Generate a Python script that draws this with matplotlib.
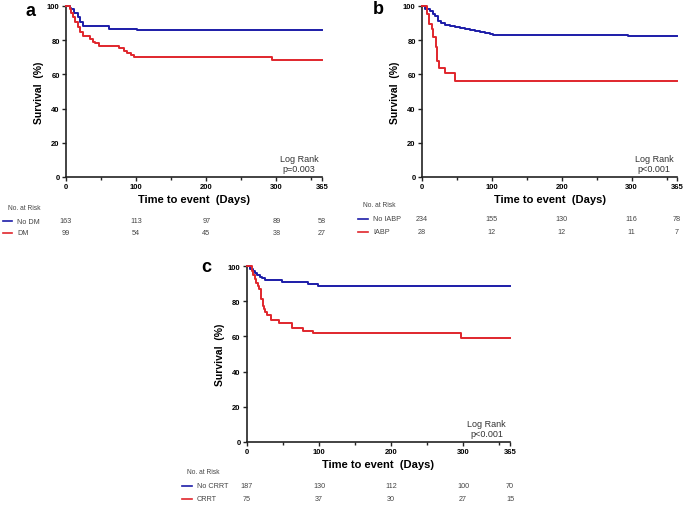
import matplotlib
matplotlib.use("Agg")
import matplotlib.pyplot as plt
from matplotlib.lines import Line2D

plt.rcParams['font.family'] = ['Liberation Sans', 'DejaVu Sans']

W, H = 685, 506
BLUE = '#1c1ca8'
RED = '#e0262c'

# Kaplan-Meier step data (days, survival %)
a_nodm_t = [0, 5, 7, 12, 17, 20, 24, 61, 101, 365]
a_nodm_s = [100, 99, 98, 96, 93.4, 90.4, 88.3, 86.7, 86, 86]
a_dm_t = [0, 5, 7, 9.5, 13, 17, 20, 24, 34, 38, 42, 47.5, 76, 82, 87, 92, 97.5, 294, 365]
a_dm_s = [100, 98, 96, 93.4, 90.4, 87.7, 84.8, 82.3, 80.7, 79.1, 78.2, 76.6, 75.3, 73.8, 72.4, 71.5, 70.3, 68.4, 68.4]

b_noiabp_t = [0, 4, 11, 16, 19, 23, 27, 33, 40, 47, 54, 61, 69, 76, 83, 90, 97, 102, 295, 365]
b_noiabp_s = [100, 98.5, 97, 95.5, 94, 91.5, 90, 89, 88.3, 87.7, 87.1, 86.5, 86, 85.5, 85, 84.3, 83.6, 83.2, 82.3, 82.3]
b_iabp_t = [0, 7, 10, 14, 16, 19.6, 21, 25, 33, 47, 365]
b_iabp_s = [100, 95.5, 89.5, 86.5, 82, 76, 68, 64, 60.6, 56.3, 56.3]

c_nocrrt_t = [0, 4, 8, 11, 14, 18, 21, 25, 49, 85, 99, 365]
c_nocrrt_s = [100, 98.5, 97, 96, 95, 94, 93, 92.2, 91.1, 90, 88.5, 88.5]
c_crrt_t = [0, 7, 9, 11, 13, 15, 17, 19, 20, 22, 24, 25, 28, 34, 44, 62, 78, 92, 297, 365]
c_crrt_s = [100, 97, 95, 92.6, 90.5, 88.5, 87, 84, 81, 77.5, 75.5, 73.7, 72.2, 69.3, 67.8, 64.6, 63, 61.7, 59, 59]

risk_days = [0, 100, 200, 300, 365]
a_labels = ['No DM', 'DM']
a_risk = [[163, 113, 97, 89, 58], [99, 54, 45, 38, 27]]
b_labels = ['No IABP', 'IABP']
b_risk = [[234, 155, 130, 116, 78], [28, 12, 12, 11, 7]]
c_labels = ['No CRRT', 'CRRT']
c_risk = [[187, 130, 112, 100, 70], [75, 37, 30, 27, 15]]

pvals = ['p=0.003', 'p<0.001', 'p<0.001']

fig = plt.figure(figsize=(W / 100, H / 100), dpi=100)


def px_axes(left, top, right, bottom):
    return fig.add_axes([left / W, (H - bottom) / H, (right - left) / W, (bottom - top) / H])


def km_panel(ax, curves, pval):
    for t, s, col in curves:
        ax.step(t, s, where='post', color=col, lw=1.4, clip_on=False, zorder=3)
    ax.set_xlim(0, 365)
    ax.set_ylim(0, 100)
    for sp in ['top', 'right']:
        ax.spines[sp].set_visible(False)
    for sp in ['left', 'bottom']:
        ax.spines[sp].set_linewidth(1.2)
        ax.spines[sp].set_color('#222222')
    ax.set_xticks([0, 100, 200, 300, 365])
    ax.set_xticks([50, 150, 250, 350], minor=True)
    ax.set_yticks([0, 20, 40, 60, 80, 100])
    ax.tick_params(axis='both', which='major', labelsize=5.5, width=1, length=3, pad=1.5, color='#222222')
    ax.tick_params(axis='x', which='minor', width=1, length=2, color='#222222')
    for lab in ax.get_xticklabels() + ax.get_yticklabels():
        lab.set_fontweight('bold')
    ax.set_xlabel('Time to event  (Days)', fontsize=8, fontweight='bold', labelpad=2.5)
    ax.set_ylabel('Survival  (%)', fontsize=7.5, fontweight='bold', labelpad=2)
    ax.text(0.985, 0.025, 'Log Rank\n' + pval, transform=ax.transAxes, ha='right', va='bottom',
            fontsize=6.5, multialignment='center', color='#333333', linespacing=1.1,
            family='Liberation Sans')


def risk_table(ax, labels, risk, y_head, y_rows, x_line, x_lab):
    fig.text((x_line[0] + 5) / W, 1 - y_head / H, 'No. at Risk',
             fontsize=4.8, color='#444444', va='center', ha='left')
    for lab, row, y, col in zip(labels, risk, y_rows, [BLUE, RED]):
        fig.add_artist(Line2D([x_line[0] / W, x_line[1] / W], [1 - y / H, 1 - y / H], color=col, lw=1.2))
        fig.text(x_lab / W, 1 - y / H, lab, fontsize=5.2, color='#444444', va='center', ha='left')
        for d, n in zip(risk_days, row):
            ax.annotate(str(n), xy=(d, H - y), xycoords=('data', 'figure pixels'), ha='center', va='center',
                        fontsize=5.2, color='#444444', annotation_clip=False)


ax_a = px_axes(66, 7, 322, 178)
km_panel(ax_a, [(a_nodm_t, a_nodm_s, BLUE), (a_dm_t, a_dm_s, RED)], pvals[0])
risk_table(ax_a, a_labels, a_risk, 208, [222, 234], (3, 12), 17)

ax_b = px_axes(422, 7, 677, 178)
km_panel(ax_b, [(b_noiabp_t, b_noiabp_s, BLUE), (b_iabp_t, b_iabp_s, RED)], pvals[1])
risk_table(ax_b, b_labels, b_risk, 206, [220, 233], (358, 368), 373)

ax_c = px_axes(247, 267, 510, 443)
km_panel(ax_c, [(c_nocrrt_t, c_nocrrt_s, BLUE), (c_crrt_t, c_crrt_s, RED)], pvals[2])
risk_table(ax_c, c_labels, c_risk, 473, [487, 500], (182, 192), 197)

fig.text(30 / W, 1 - 11 / H, 'a', fontsize=13, fontweight='bold', ha='center', va='center')
fig.text(378 / W, 1 - 9 / H, 'b', fontsize=13, fontweight='bold', ha='center', va='center')
fig.text(206 / W, 1 - 268 / H, 'c', fontsize=13, fontweight='bold', ha='center', va='center')

fig.savefig('out.png', dpi=100)
